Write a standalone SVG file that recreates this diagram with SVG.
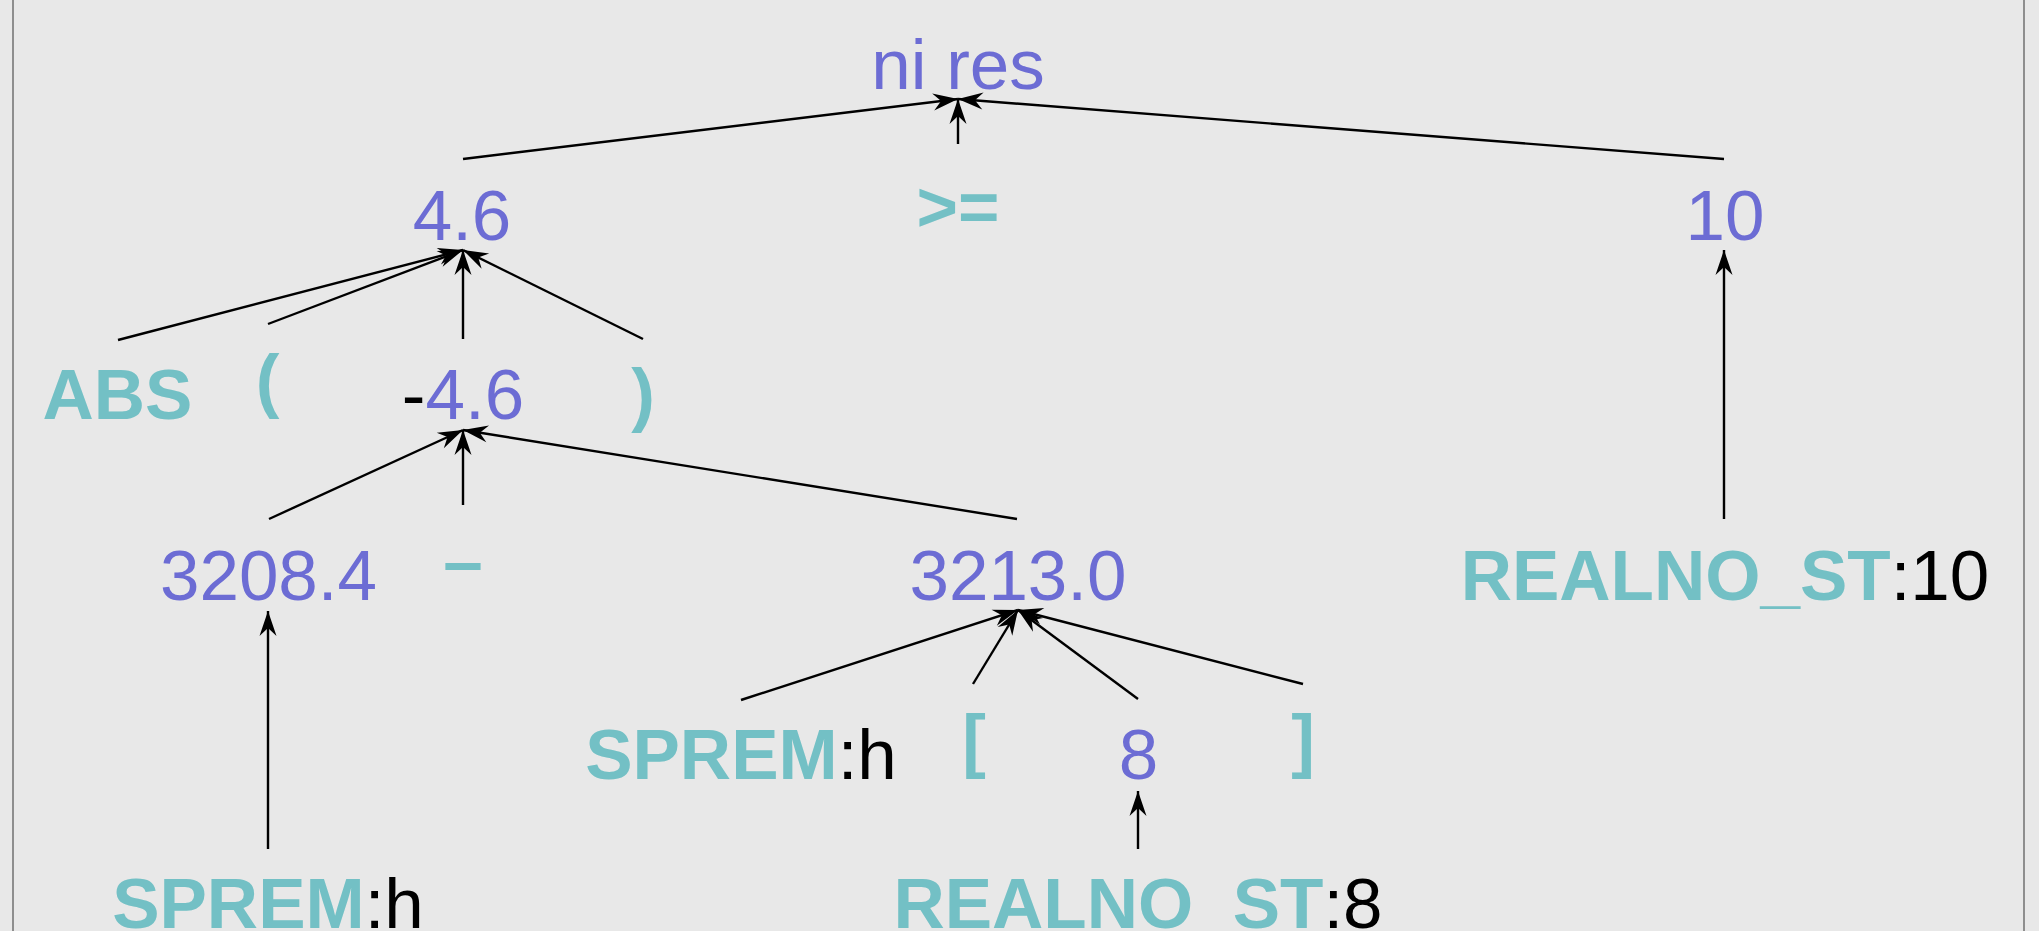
<svg xmlns="http://www.w3.org/2000/svg" width="2039" height="931" viewBox="0 0 2039 931">
  <defs>
    <style>
      text { font-family: "Liberation Sans", Arial, sans-serif; font-size: 71px; text-anchor: middle; }
      .val { fill: #6c6cd4; }
      .tok { fill: #73c0c5; font-weight: bold; }
      .plain { fill: #000000; font-weight: normal; }
      .edge { stroke: #000000; stroke-width: 2.4; fill: none; marker-end: url(#arrow); }
      .frame { stroke: #8e8e8e; stroke-width: 2; }
    </style>
    <marker id="arrow" markerUnits="userSpaceOnUse" orient="auto" refX="0" refY="0" markerWidth="30" markerHeight="20" viewBox="-26 -10 30 20" overflow="visible">
      <path d="M0,0 L-25,-8.5 L-17,0 L-25,8.5 Z" fill="#000000"/>
    </marker>
  </defs>

  <rect x="0" y="0" width="2039" height="931" fill="#e8e8e8"/>
  <line class="frame" x1="13" y1="0" x2="13" y2="931"/>
  <line class="frame" x1="2024" y1="0" x2="2024" y2="931"/>

  <g id="connectors">
    <line class="edge" x1="463" y1="159" x2="958" y2="99"/>
    <line class="edge" x1="958" y1="144" x2="958" y2="99"/>
    <line class="edge" x1="1724" y1="159" x2="958" y2="99"/>
    <line class="edge" x1="118" y1="340" x2="463" y2="250"/>
    <line class="edge" x1="268" y1="324" x2="463" y2="250"/>
    <line class="edge" x1="463" y1="339" x2="463" y2="250"/>
    <line class="edge" x1="643" y1="339" x2="463" y2="250"/>
    <line class="edge" x1="269" y1="519" x2="463" y2="430"/>
    <line class="edge" x1="463" y1="505" x2="463" y2="430"/>
    <line class="edge" x1="1017" y1="519" x2="463" y2="430"/>
    <line class="edge" x1="1724" y1="519" x2="1724" y2="250"/>
    <line class="edge" x1="268" y1="849" x2="268" y2="611"/>
    <line class="edge" x1="741" y1="700" x2="1018" y2="610"/>
    <line class="edge" x1="973" y1="684" x2="1018" y2="610"/>
    <line class="edge" x1="1138" y1="699" x2="1018" y2="610"/>
    <line class="edge" x1="1303" y1="684" x2="1018" y2="610"/>
    <line class="edge" x1="1138" y1="849" x2="1138" y2="791"/>
  </g>

  <g id="n-nires"><text class="val" x="958" y="89">ni res</text></g>
  <g id="n-46"><text class="val" x="462" y="240">4.6</text></g>
  <g id="n-ge"><text class="tok" x="958" y="231">&gt;=</text></g>
  <g id="n-10"><text class="val" x="1725" y="240">10</text></g>

  <g id="n-abs"><text class="tok" x="117.5" y="419">ABS</text></g>
  <g id="n-lpar"><text class="tok" x="267.5" y="404">(</text></g>
  <g id="n-neg46"><text x="463" y="419"><tspan class="plain">-</tspan><tspan class="val">4.6</tspan></text></g>
  <g id="n-rpar"><text class="tok" x="643" y="418">)</text></g>

  <g id="n-32084"><text class="val" x="268.5" y="600">3208.4</text></g>
  <g id="n-minus"><text class="tok" x="463" y="585">–</text></g>
  <g id="n-32130"><text class="val" x="1018" y="600">3213.0</text></g>
  <g id="n-real10"><text x="1725" y="600"><tspan class="tok">REALNO_ST</tspan><tspan class="plain">:10</tspan></text></g>

  <g id="n-sprem1"><text x="741" y="779"><tspan class="tok">SPREM</tspan><tspan class="plain">:h</tspan></text></g>
  <g id="n-lbr"><text class="tok" x="974" y="764">[</text></g>
  <g id="n-8"><text class="val" x="1138.5" y="779">8</text></g>
  <g id="n-rbr"><text class="tok" x="1303" y="764">]</text></g>

  <g id="n-sprem2"><text x="268" y="928"><tspan class="tok">SPREM</tspan><tspan class="plain">:h</tspan></text></g>
  <g id="n-real8"><text x="1138" y="928"><tspan class="tok">REALNO_ST</tspan><tspan class="plain">:8</tspan></text></g>
</svg>
